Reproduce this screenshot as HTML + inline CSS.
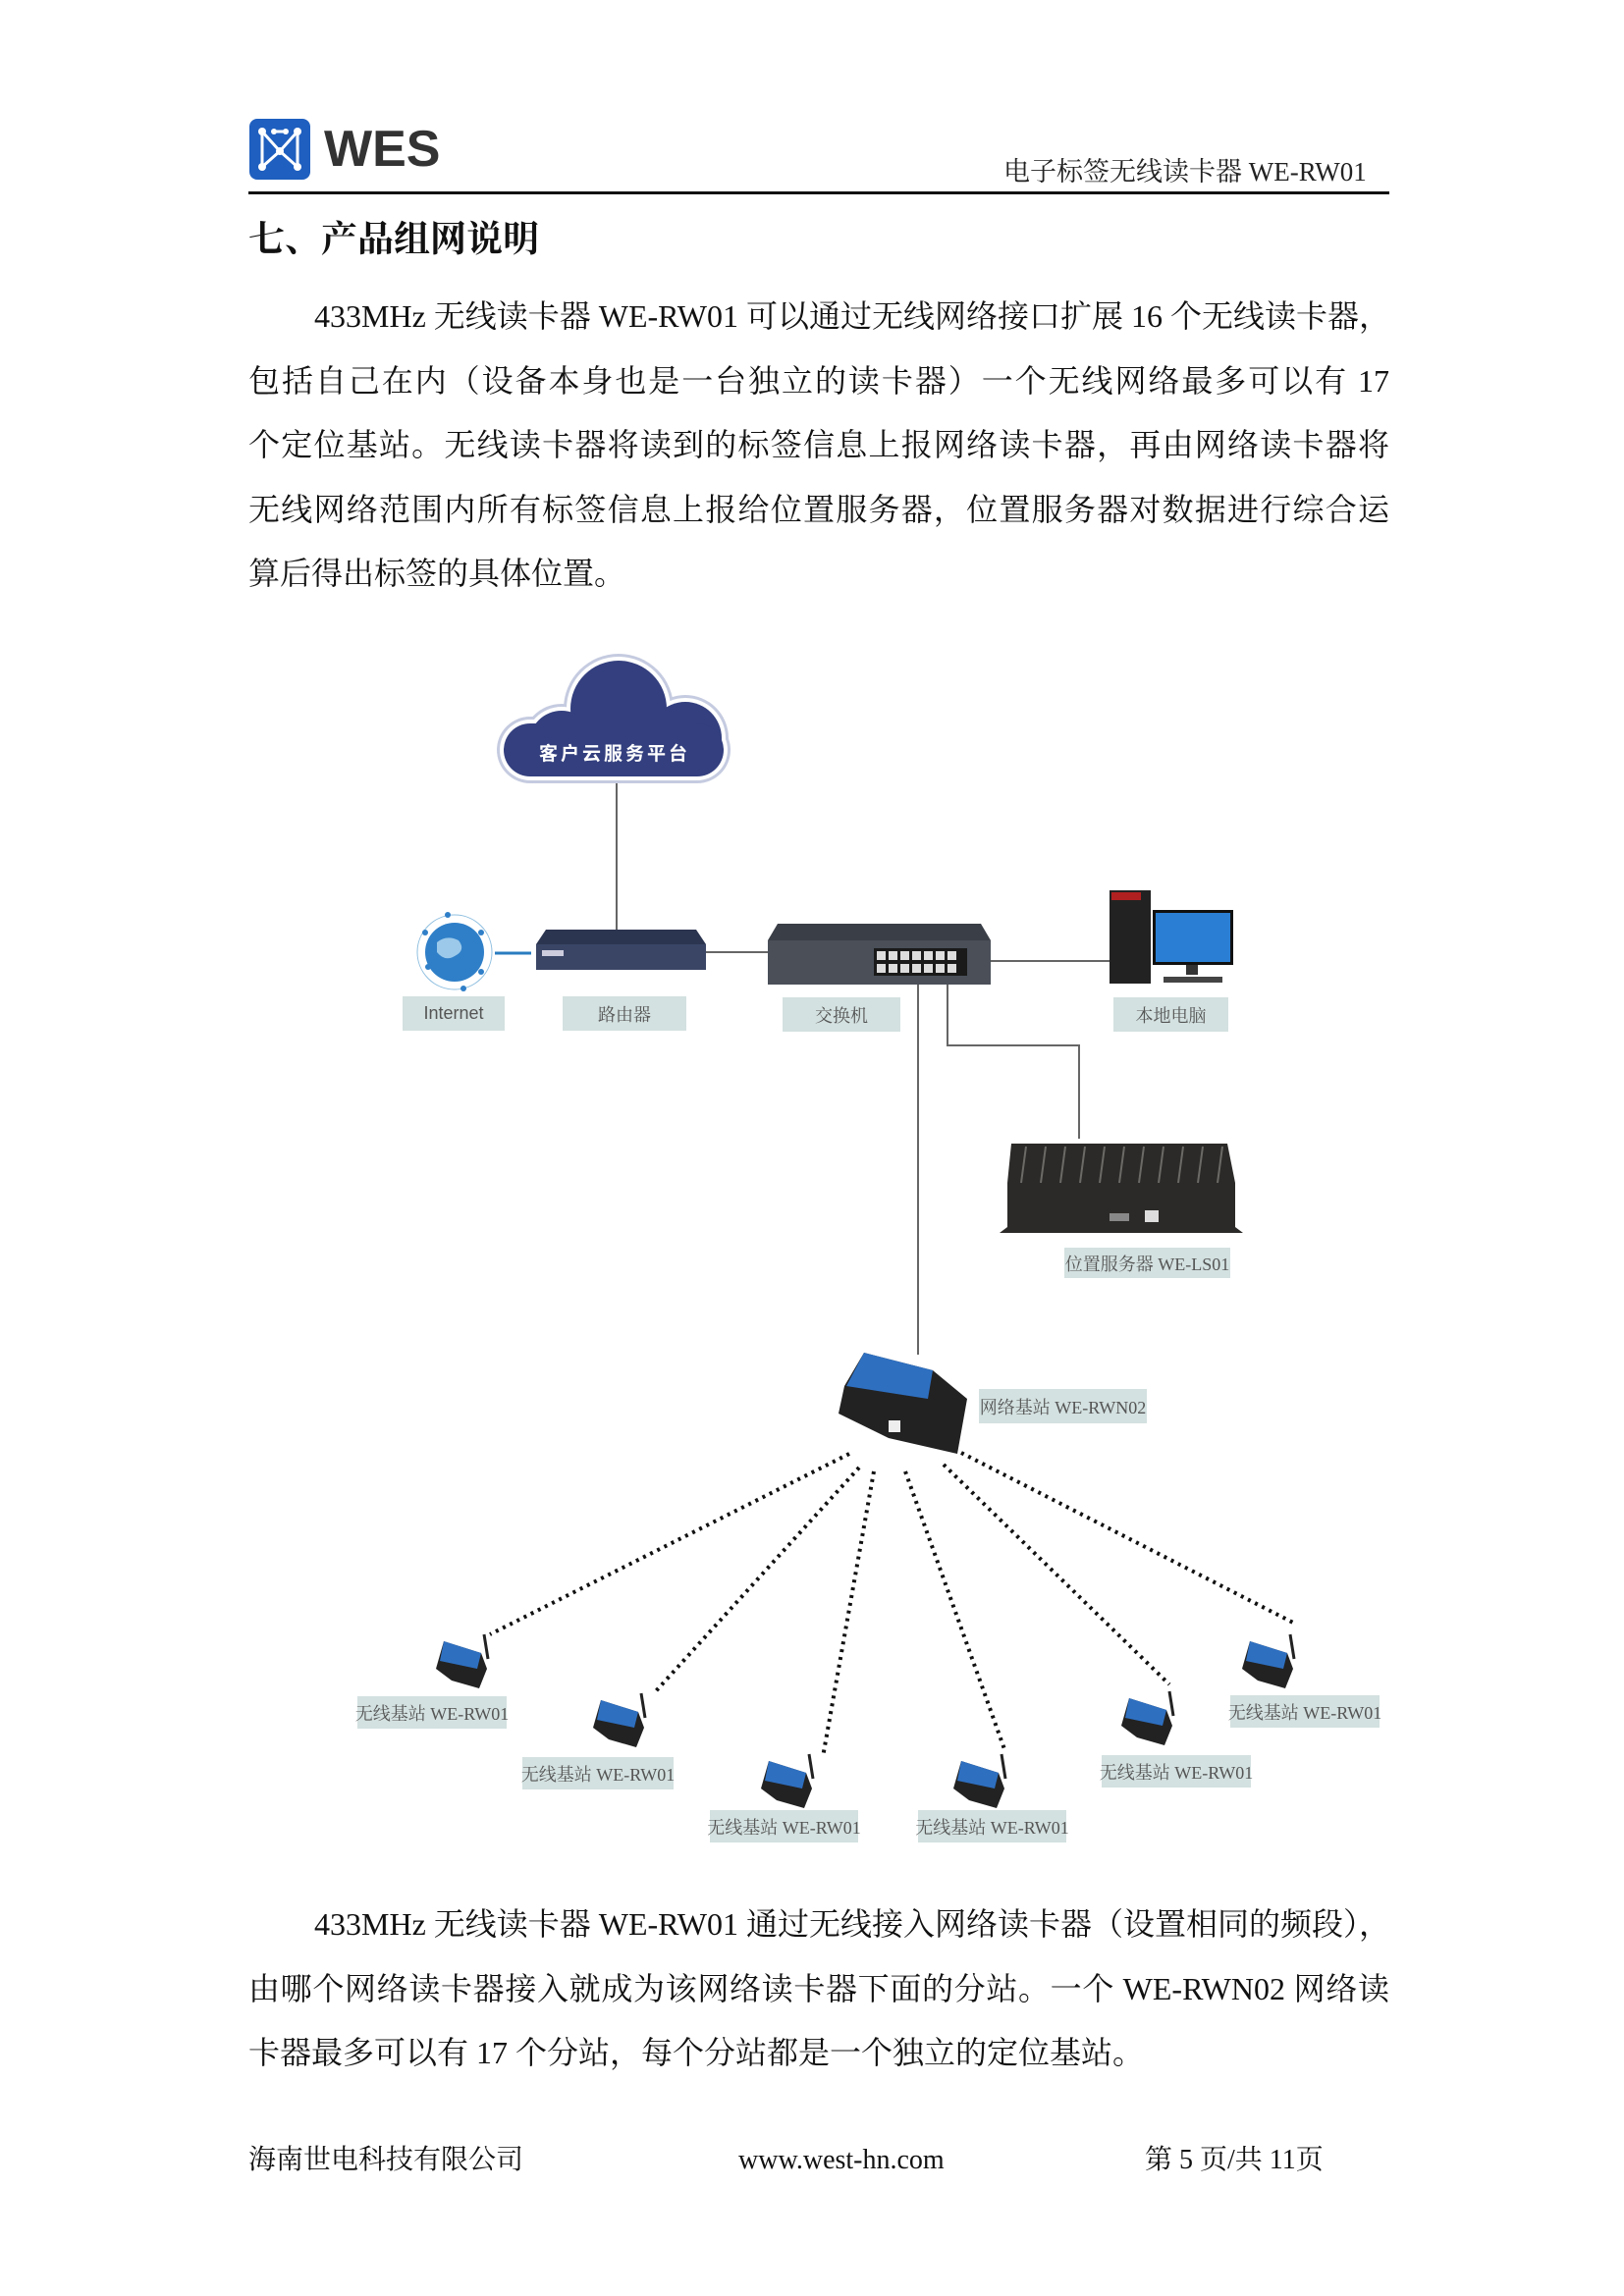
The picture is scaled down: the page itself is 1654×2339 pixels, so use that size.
<!DOCTYPE html>
<html><head><meta charset="utf-8">
<style>
*{margin:0;padding:0;box-sizing:border-box}
body{width:1654px;height:2339px;background:#fff;position:relative;overflow:hidden;font-family:"Liberation Serif","Noto Serif CJK SC",serif;color:#111}
.a{position:absolute;white-space:nowrap}
.ln{position:absolute;left:253px;width:1162px;font-size:32px;height:44px;line-height:44px;text-align:justify;text-align-last:justify;white-space:nowrap}
.ln.l{text-align-last:left}
.lb{position:absolute;background:#d3e1e0;color:#555;font-size:18px;display:flex;align-items:center;justify-content:center;white-space:nowrap}
</style></head><body>
<!-- header -->
<svg class="a" style="left:253px;top:120px" width="64" height="64" viewBox="0 0 64 64">
<rect x="1" y="1" width="62" height="62" rx="8" fill="#1f5fbf"/>
<g stroke="#fff" stroke-width="3" fill="none"><path d="M14 14 L14 50 L32 34 L50 50 L50 14"/><path d="M14 14 L32 34 L50 14"/><path d="M26 14 L38 14"/></g>
<g fill="#fff"><circle cx="14" cy="14" r="4"/><circle cx="50" cy="14" r="4"/><circle cx="14" cy="50" r="4"/><circle cx="50" cy="50" r="4"/><circle cx="32" cy="34" r="4"/><circle cx="26" cy="14" r="3"/><circle cx="38" cy="14" r="3"/></g>
</svg>
<div class="a" style="left:330px;top:122px;font-family:'Liberation Sans',sans-serif;font-weight:bold;font-size:52px;line-height:60px;color:#333">WES</div>
<div class="a" style="left:1022px;top:158px;font-size:27px;line-height:34px;color:#222">电子标签无线读卡器 WE-RW01</div>
<div class="a" style="left:253px;top:195px;width:1162px;height:3px;background:#111"></div>
<div class="a" style="left:253px;top:222px;font-size:37px;line-height:46px;font-weight:bold;font-family:'Liberation Serif','Noto Serif CJK SC',serif">七、产品组网说明</div>

<div class="ln" style="top:300px;left:320px;width:1095px">433MHz 无线读卡器 WE-RW01 可以通过无线网络接口扩展 16 个无线读卡器，</div>
<div class="ln" style="top:366px">包括自己在内（设备本身也是一台独立的读卡器）一个无线网络最多可以有 17</div>
<div class="ln" style="top:431px">个定位基站。无线读卡器将读到的标签信息上报网络读卡器，再由网络读卡器将</div>
<div class="ln" style="top:497px">无线网络范围内所有标签信息上报给位置服务器，位置服务器对数据进行综合运</div>
<div class="ln l" style="top:562px">算后得出标签的具体位置。</div>

<svg class="a" style="left:0;top:0" width="1654" height="2339">
<!-- connectors -->
<g stroke="#666" stroke-width="2" fill="none">
<line x1="628" y1="795" x2="628" y2="950"/>
<line x1="719" y1="970" x2="782" y2="970"/>
<line x1="1009" y1="979" x2="1130" y2="979"/>
<line x1="935" y1="1003" x2="935" y2="1380"/>
<polyline points="965,1003 965,1065 1099,1065 1099,1160"/>
</g>
<line x1="504" y1="971" x2="541" y2="971" stroke="#2a7cc0" stroke-width="3"/>
<!-- cloud -->
<g fill="#c5cbe0"><circle cx="630" cy="722" r="56"/><circle cx="572" cy="757" r="40"/><circle cx="698" cy="752" r="44"/><rect x="506" y="730" width="238" height="68" rx="34"/></g>
<g fill="#fff"><circle cx="630" cy="722" r="53"/><circle cx="572" cy="757" r="37"/><circle cx="698" cy="752" r="41"/><rect x="509" y="733" width="232" height="62" rx="31"/></g>
<g fill="#333f7e"><circle cx="630" cy="722" r="49"/><circle cx="572" cy="757" r="33"/><circle cx="698" cy="752" r="37"/><rect x="513" y="737" width="224" height="54" rx="27"/></g>
<text x="626" y="774" fill="#fff" font-size="19" font-weight="bold" text-anchor="middle" font-family="Liberation Sans,Noto Sans CJK SC,sans-serif" letter-spacing="3">客户云服务平台</text>
<!-- globe -->
<circle cx="463" cy="970" r="30" fill="#2f7fc8"/>
<circle cx="463" cy="970" r="38" fill="none" stroke="#8fbfe0" stroke-width="1"/>
<path d="M445 960 q10 -8 22 -2 q8 10 -4 16 q-10 6 -18 -4z" fill="#9cc9ea"/>
<g fill="#2f7fc8"><circle cx="433" cy="950" r="3"/><circle cx="456" cy="932" r="3"/><circle cx="490" cy="950" r="3"/><circle cx="490" cy="990" r="3"/><circle cx="436" cy="985" r="3"/><circle cx="472" cy="1007" r="3"/></g>
<!-- router -->
<path d="M556 947 L709 947 L719 962 L719 988 L546 988 L546 962 Z" fill="#2c3550"/>
<rect x="546" y="962" width="173" height="26" fill="#3a4566"/>
<rect x="552" y="968" width="22" height="6" fill="#ccd"/>
<!-- switch -->
<path d="M792 941 L999 941 L1009 958 L1009 1003 L782 1003 L782 958 Z" fill="#3a3e46"/>
<rect x="782" y="958" width="227" height="45" fill="#4a4f58"/>
<rect x="890" y="966" width="95" height="28" fill="#1a1a1a"/>
<g fill="#ddd"><rect x="893" y="969" width="9" height="9"/><rect x="905" y="969" width="9" height="9"/><rect x="917" y="969" width="9" height="9"/><rect x="929" y="969" width="9" height="9"/><rect x="941" y="969" width="9" height="9"/><rect x="953" y="969" width="9" height="9"/><rect x="965" y="969" width="9" height="9"/><rect x="893" y="982" width="9" height="9"/><rect x="905" y="982" width="9" height="9"/><rect x="917" y="982" width="9" height="9"/><rect x="929" y="982" width="9" height="9"/><rect x="941" y="982" width="9" height="9"/><rect x="953" y="982" width="9" height="9"/><rect x="965" y="982" width="9" height="9"/></g>
<!-- PC -->
<rect x="1130" y="907" width="42" height="95" fill="#222"/>
<rect x="1132" y="909" width="30" height="8" fill="#b02020"/>
<rect x="1174" y="927" width="82" height="56" fill="#111"/>
<rect x="1177" y="930" width="76" height="50" fill="#2a7fd4"/>
<rect x="1208" y="983" width="12" height="10" fill="#333"/>
<rect x="1185" y="995" width="60" height="6" fill="#444"/>
<!-- server -->
<path d="M1030 1165 L1250 1165 L1258 1205 L1258 1250 L1266 1256 L1018 1256 L1026 1250 L1026 1205 Z" fill="#2c2a28"/>
<g stroke="#6b6a66" stroke-width="2"><line x1="1045" y1="1168" x2="1040" y2="1205"/><line x1="1065" y1="1168" x2="1060" y2="1205"/><line x1="1085" y1="1168" x2="1080" y2="1205"/><line x1="1105" y1="1168" x2="1100" y2="1205"/><line x1="1125" y1="1168" x2="1120" y2="1205"/><line x1="1145" y1="1168" x2="1140" y2="1205"/><line x1="1165" y1="1168" x2="1160" y2="1205"/><line x1="1185" y1="1168" x2="1180" y2="1205"/><line x1="1205" y1="1168" x2="1200" y2="1205"/><line x1="1225" y1="1168" x2="1220" y2="1205"/><line x1="1245" y1="1168" x2="1240" y2="1205"/></g>
<rect x="1166" y="1233" width="14" height="12" fill="#ddd"/>
<rect x="1130" y="1236" width="20" height="8" fill="#888"/>
<!-- network base -->
<path d="M880 1378 L950 1396 L985 1425 L975 1481 L905 1465 L854 1440 L860 1412 Z" fill="#222"/>
<path d="M880 1378 L950 1396 L945 1425 L862 1412 Z" fill="#2e6fc0"/>
<rect x="905" y="1447" width="12" height="12" fill="#eee"/>
<!-- dotted lines -->
<g stroke="#111" stroke-width="4" stroke-dasharray="3 5" fill="none">
<line x1="865" y1="1481" x2="499" y2="1665"/>
<line x1="875" y1="1495" x2="666" y2="1725"/>
<line x1="890" y1="1499" x2="838" y2="1790"/>
<line x1="922" y1="1499" x2="1023" y2="1782"/>
<line x1="961" y1="1492" x2="1191" y2="1716"/>
<line x1="979" y1="1480" x2="1319" y2="1654"/>
</g>
<!-- small devices -->
<g id="dv">
<line x1="493" y1="1665" x2="497" y2="1690" stroke="#222" stroke-width="3"/>
<path d="M452 1672 L490 1684 L496 1700 L488 1720 L460 1712 L444 1700 Z" fill="#222"/>
<path d="M452 1672 L490 1684 L486 1700 L448 1692 Z" fill="#2e6fc0"/>
</g>
<use href="#dv" x="160" y="60"/>
<use href="#dv" x="331" y="122"/>
<use href="#dv" x="527" y="122"/>
<use href="#dv" x="698" y="58"/>
<use href="#dv" x="821" y="0"/>
</svg>

<div class="lb" style="left:410px;top:1015px;width:104px;height:35px;font-family:'Liberation Sans',sans-serif">Internet</div>
<div class="lb" style="left:573px;top:1015px;width:126px;height:35px">路由器</div>
<div class="lb" style="left:797px;top:1016px;width:120px;height:35px">交换机</div>
<div class="lb" style="left:1134px;top:1016px;width:117px;height:35px">本地电脑</div>
<div class="lb" style="left:1084px;top:1271px;width:169px;height:31px">位置服务器 WE-LS01</div>
<div class="lb" style="left:997px;top:1415px;width:171px;height:35px">网络基站 WE-RWN02</div>
<div class="lb" style="left:364px;top:1728px;width:152px;height:33px">无线基站 WE-RW01</div>
<div class="lb" style="left:532px;top:1790px;width:154px;height:33px">无线基站 WE-RW01</div>
<div class="lb" style="left:723px;top:1844px;width:151px;height:33px">无线基站 WE-RW01</div>
<div class="lb" style="left:935px;top:1844px;width:151px;height:33px">无线基站 WE-RW01</div>
<div class="lb" style="left:1122px;top:1788px;width:152px;height:33px">无线基站 WE-RW01</div>
<div class="lb" style="left:1253px;top:1727px;width:152px;height:33px">无线基站 WE-RW01</div>

<div class="ln" style="top:1938px;left:320px;width:1095px">433MHz 无线读卡器 WE-RW01 通过无线接入网络读卡器（设置相同的频段），</div>
<div class="ln" style="top:2004px">由哪个网络读卡器接入就成为该网络读卡器下面的分站。一个 WE-RWN02 网络读</div>
<div class="ln l" style="top:2069px">卡器最多可以有 17 个分站，每个分站都是一个独立的定位基站。</div>

<div class="a" style="left:253px;top:2183px;font-size:28px;line-height:36px">海南世电科技有限公司</div>
<div class="a" style="left:752px;top:2183px;font-size:28px;line-height:36px">www.west-hn.com</div>
<div class="a" style="left:1166px;top:2183px;font-size:28px;line-height:36px">第 5 页/共 11页</div>
</body></html>
